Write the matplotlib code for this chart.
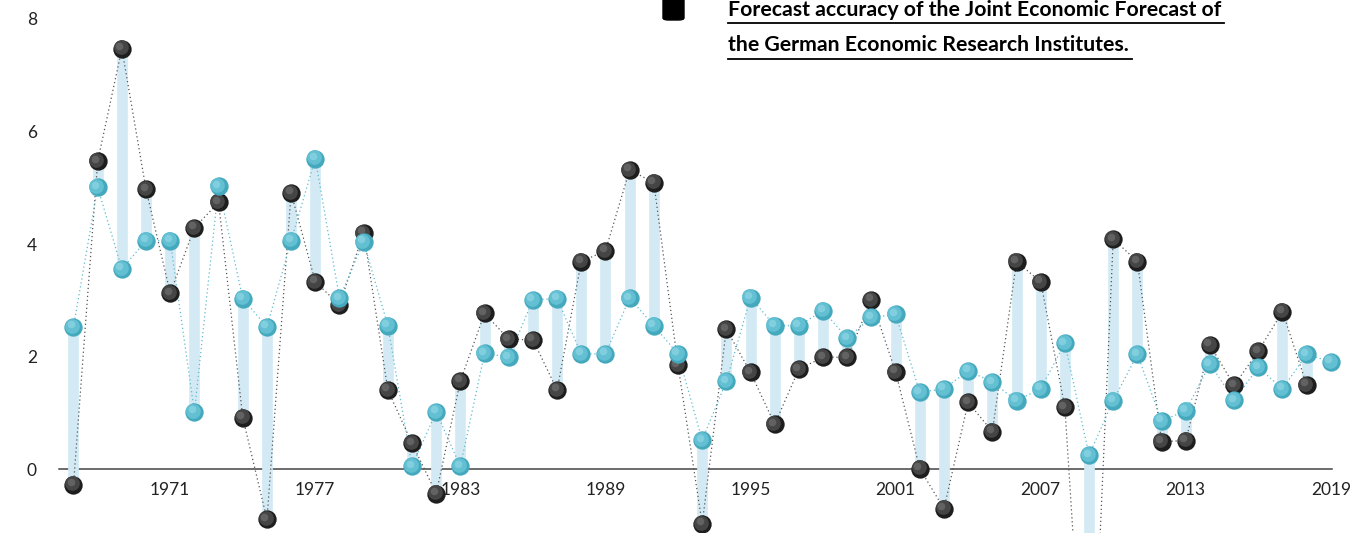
import matplotlib
matplotlib.use("Agg")
import matplotlib.pyplot as plt
import matplotlib.transforms as mtransforms
from matplotlib.patches import FancyBboxPatch
from matplotlib.lines import Line2D
import numpy as np

# data
years = list(range(1967, 2020))
forecast = [2.53, 5.01, 3.56, 4.06, 4.06, 1.02, 5.03, 3.03, 2.53, 4.06,
            5.52, 3.04, 4.04, 2.55, 0.05, 1.02, 0.05, 2.06, 1.99, 3.01,
            3.03, 2.05, 2.05, 3.04, 2.55, 2.05, 0.52, 1.56, 3.05, 2.55,
            2.55, 2.82, 2.33, 2.70, 2.75, 1.37, 1.43, 1.75, 1.55, 1.22,
            1.43, 2.24, 0.25, 1.22, 2.04, 0.86, 1.04, 1.87, 1.23, 1.81,
            1.43, 2.04, 1.91]
actual = [-0.27, 5.47, 7.47, 4.97, 3.13, 4.29, 4.74, 0.92, -0.89, 4.91,
          3.33, 2.92, 4.20, 1.41, 0.46, -0.43, 1.57, 2.77, 2.31, 2.30,
          1.41, 3.69, 3.88, 5.32, 5.09, 1.85, -0.97, 2.49, 1.72, 0.80,
          1.78, 1.99, 1.99, 3.01, 1.73, 0.01, -0.70, 1.19, 0.67, 3.69,
          3.33, 1.10, -5.6, 4.09, 3.69, 0.49, 0.51, 2.21, 1.49, 2.10,
          2.80, 1.50, np.nan]
xtick_years = [1971, 1977, 1983, 1989, 1995, 2001, 2007, 2013, 2019]
yticks = [0, 2, 4, 6, 8]
title_lines = ["Forecast accuracy of the Joint Economic Forecast of",
               "the German Economic Research Institutes."]

x = np.array(years, dtype=float)
fc = np.array(forecast)
ac = np.array(actual)

W, H = 1367, 533
fig = plt.figure(figsize=(W / 100, H / 100), dpi=100)
ax = fig.add_axes([0, 0, 1, 1])

# pixel layout: 1967 at x=73.5, 24.18 px per year; y=0 at 469.3, 56.3 px per unit
ppy = 24.18
x0 = 1967 - 73.5 / ppy
ax.set_xlim(x0, x0 + W / ppy)
ax.set_ylim(-(H - 469.3) / 56.3, 469.3 / 56.3)

for s in ["top", "right", "left"]:
    ax.spines[s].set_visible(False)
ax.spines["bottom"].set_position(("data", 0))
ax.spines["bottom"].set_bounds(1967 - 14.5 / ppy, 2019 + 1 / ppy)
ax.spines["bottom"].set_color("#444444")
ax.spines["bottom"].set_linewidth(1.1)
ax.spines["bottom"].set_zorder(1)

ax.set_xticks(xtick_years)
ax.set_xticklabels([str(y) for y in xtick_years])
ax.tick_params(axis="x", length=0, pad=9, labelsize=12.5, labelcolor="#222222")
ax.set_yticks(yticks)
ax.set_yticklabels([str(v) for v in yticks])
ax.tick_params(axis="y", length=0, pad=-26.5, labelsize=12.5, labelcolor="#222222")
for lab in ax.get_xticklabels() + ax.get_yticklabels():
    lab.set_fontfamily("Lato")

# bars between forecast and actual
mask = ~np.isnan(ac)
ax.vlines(x[mask], fc[mask], ac[mask], color="#d3eaf5", lw=7.7, zorder=2)

# dotted connectors
ax.plot(x[mask], ac[mask], ls=(0, (1, 2.2)), lw=0.9, color="#555555", zorder=3)
ax.plot(x, fc, ls=(0, (1, 2.2)), lw=0.9, color="#5bbcd0", zorder=3)


def spheres(xs, ys, base, mid, light, z):
    ax.plot(xs, ys, "o", ms=13.2, color=base, mec="none", zorder=z)
    t1 = mtransforms.offset_copy(ax.transData, fig=fig, x=-0.9, y=0.9, units="points")
    ax.plot(xs, ys, "o", ms=10.6, color=mid, mec="none", zorder=z + 0.1, transform=t1)
    t2 = mtransforms.offset_copy(ax.transData, fig=fig, x=-1.8, y=1.8, units="points")
    ax.plot(xs, ys, "o", ms=5.5, color=light, mec="none", zorder=z + 0.2,
            transform=t2, alpha=0.55)


spheres(x[mask], ac[mask], "#1e1e1e", "#454545", "#7a7a7a", 4)
spheres(x, fc, "#45a9be", "#63bfd2", "#9adbe8", 5)

# header block
sq = FancyBboxPatch((663 / W, 1 - 20 / H), 21 / W, 30 / H,
                    boxstyle="round,pad=0,rounding_size=0.004",
                    transform=fig.transFigure, color="black", clip_on=False)
fig.patches.append(sq)

renderer = fig.canvas.get_renderer()
for i, (line, base_px, ul_px) in enumerate(zip(title_lines, [16, 51], [22.5, 59])):
    t = fig.text(728 / W, 1 - base_px / H, line, fontsize=15.3, fontweight="bold",
                 family="Lato", color="black", va="baseline", ha="left")
    bb = t.get_window_extent(renderer=renderer)
    fig.add_artist(Line2D([728 / W, (bb.x1 + 3) / W], [1 - ul_px / H, 1 - ul_px / H],
                          transform=fig.transFigure, color="black", lw=1.3))

fig.savefig("out.png", dpi=100)
